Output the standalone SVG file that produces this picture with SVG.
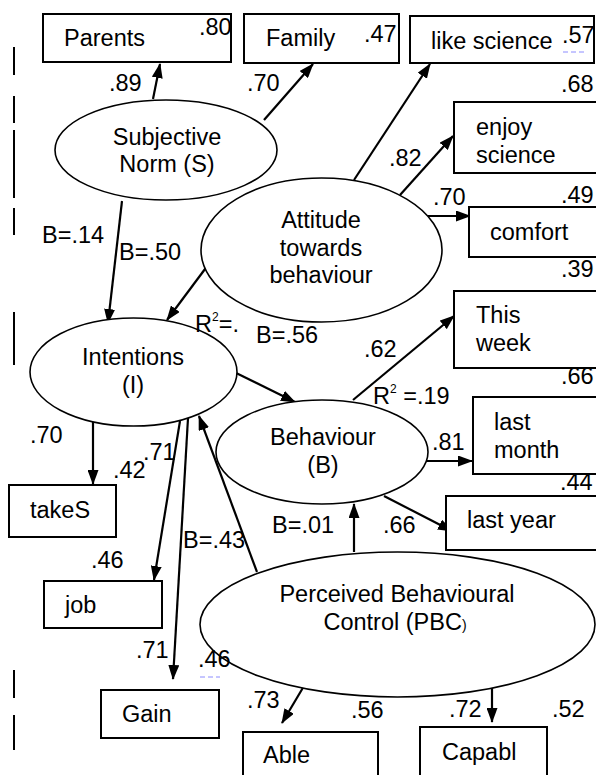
<svg xmlns="http://www.w3.org/2000/svg" width="596" height="775" viewBox="0 0 596 775">
<defs>
<marker id="ah" markerUnits="userSpaceOnUse" markerWidth="15" markerHeight="11" refX="14" refY="5.5" orient="auto">
<path d="M0,0 L15,5.5 L0,11 z" fill="#000"/>
</marker>
<style>
text{font-family:"Liberation Sans",Arial,sans-serif;font-size:23.5px;fill:#000}
.box{fill:#fff;stroke:#000;stroke-width:2}
.ell{fill:#fff;stroke:#000;stroke-width:1.6}
.c{text-anchor:middle}
.arr{stroke:#000;stroke-width:2.2;fill:none;marker-end:url(#ah)}
.bar{stroke:#000;stroke-width:2}
.sup{font-size:12px}
.sq{stroke:#8c8cff;stroke-width:1;stroke-dasharray:5,3}
</style>
</defs>
<rect width="596" height="775" fill="#fff"/>
<g id="margin-bars">
<line class="bar" x1="14" y1="47" x2="14" y2="75"/>
<line class="bar" x1="14" y1="96" x2="14" y2="123"/>
<line class="bar" x1="14" y1="130" x2="14" y2="198"/>
<line class="bar" x1="14" y1="208" x2="14" y2="235"/>
<line class="bar" x1="14" y1="312" x2="14" y2="365"/>
<line class="bar" x1="14" y1="670" x2="14" y2="698"/>
<line class="bar" x1="14" y1="715" x2="14" y2="750"/>
</g>
<g id="connectors">
<line class="arr" x1="153" y1="99" x2="160" y2="64"/>
<line class="arr" x1="264" y1="120" x2="313" y2="64"/>
<line class="arr" x1="354" y1="180" x2="430" y2="64"/>
<line class="arr" x1="400" y1="195" x2="453" y2="136"/>
<line class="arr" x1="418" y1="216" x2="470" y2="216"/>
<line class="arr" x1="208" y1="265" x2="167" y2="320"/>
<line class="arr" x1="122" y1="201" x2="108" y2="323"/>
<line class="arr" x1="230" y1="370" x2="295" y2="402"/>
<line class="arr" x1="353" y1="400" x2="454" y2="316"/>
<line class="arr" x1="423" y1="461" x2="472" y2="461"/>
<line class="arr" x1="384" y1="496" x2="452" y2="531"/>
<line class="arr" x1="354" y1="552" x2="354" y2="504"/>
<line class="arr" x1="257" y1="572" x2="199" y2="416"/>
<line class="arr" x1="93" y1="421" x2="93" y2="484"/>
<line class="arr" x1="180" y1="421" x2="154" y2="580"/>
<line class="arr" x1="188" y1="418" x2="173" y2="679"/>
<line class="arr" x1="304" y1="686" x2="282" y2="723"/>
<line class="arr" x1="492" y1="687" x2="492" y2="722"/>
</g>
<g id="parents"><rect class="box" x="43" y="14" width="188" height="48"/><text x="64" y="46">Parents</text></g>
<g id="family"><rect class="box" x="244" y="14" width="155" height="49"/><text x="266" y="46">Family</text></g>
<g id="like-science"><rect class="box" x="410" y="16" width="184" height="47"/><text x="431" y="49">like science</text></g>
<g id="enjoy-science"><rect class="box" x="454" y="102" width="150" height="71"/><text x="476" y="135">enjoy</text><text x="476" y="163">science</text></g>
<g id="comfort"><rect class="box" x="469" y="207" width="135" height="50"/><text x="490" y="240">comfort</text></g>
<g id="this-week"><rect class="box" x="454" y="291" width="150" height="77"/><text x="476" y="323">This</text><text x="476" y="351">week</text></g>
<g id="last-month"><rect class="box" x="473" y="397" width="131" height="77"/><text x="494" y="430">last</text><text x="494" y="458">month</text></g>
<g id="last-year"><rect class="box" x="446" y="496" width="158" height="54"/><text x="467" y="528">last year</text></g>
<g id="takeS"><rect class="box" x="9" y="485" width="107" height="52"/><text x="30" y="518">takeS</text></g>
<g id="job"><rect class="box" x="44" y="581" width="118" height="47"/><text x="65" y="613">job</text></g>
<g id="gain"><rect class="box" x="101" y="690" width="118" height="48"/><text x="122" y="722">Gain</text></g>
<g id="able"><rect class="box" x="243" y="732" width="135" height="50"/><text x="263" y="763">Able</text></g>
<g id="capabl"><rect class="box" x="420" y="727" width="127" height="55"/><text x="442" y="760">Capabl</text></g>
<g id="subjective-norm"><ellipse class="ell" cx="166" cy="150" rx="111" ry="50"/><text class="c" x="167" y="145">Subjective</text><text class="c" x="167" y="172">Norm (S)</text></g>
<g id="attitude"><ellipse class="ell" cx="321.5" cy="250" rx="120.5" ry="72"/><text class="c" x="321" y="228">Attitude</text><text class="c" x="321" y="256">towards</text><text class="c" x="321" y="283">behaviour</text></g>
<g id="intentions"><ellipse class="ell" cx="133.5" cy="372" rx="103.5" ry="54"/><text class="c" x="133" y="365">Intentions</text><text class="c" x="133" y="393">(I)</text></g>
<g id="behaviour"><ellipse class="ell" cx="322" cy="452" rx="106" ry="52"/><text class="c" x="323" y="445">Behaviour</text><text class="c" x="323" y="473">(B)</text></g>
<g id="pbc"><ellipse class="ell" cx="397.5" cy="624.5" rx="197.5" ry="72.5"/><text class="c" x="397" y="602">Perceived Behavioural</text><text class="c" x="395" y="630">Control (PBC<tspan font-size="14">)</tspan></text></g>
<g id="labels">
<text x="199" y="35">.80</text>
<text x="364" y="42">.47</text>
<text x="562" y="43">.57</text>
<line class="sq" x1="563" y1="52" x2="587" y2="52"/>
<text x="561" y="92">.68</text>
<text x="561" y="203">.49</text>
<text x="561" y="277">.39</text>
<text x="561" y="384">.66</text>
<text x="560" y="490">.44</text>
<text x="109" y="91">.89</text>
<text x="247" y="91">.70</text>
<text x="389" y="166">.82</text>
<text x="433" y="205">.70</text>
<text x="42" y="243">B=.14</text>
<text x="119" y="260">B=.50</text>
<text x="195" y="332">R<tspan class="sup" dy="-11">2</tspan><tspan dy="11">=.</tspan></text>
<text x="256" y="343">B=.56</text>
<text x="364" y="357">.62</text>
<text x="373" y="404">R<tspan class="sup" dy="-11">2</tspan><tspan dy="11"> =.19</tspan></text>
<text x="432" y="450">.81</text>
<text x="383" y="533">.66</text>
<text x="272" y="533">B=.01</text>
<text x="30" y="443">.70</text>
<text x="113" y="478">.42</text>
<text x="143" y="460">.71</text>
<text x="91" y="568">.46</text>
<text x="183" y="548">B=.43</text>
<text x="136" y="658">.71</text>
<text x="198" y="667">.46</text>
<line class="sq" x1="200" y1="677" x2="220" y2="677"/>
<text x="247" y="708">.73</text>
<text x="351" y="718">.56</text>
<text x="449" y="717">.72</text>
<text x="552" y="717">.52</text>
</g>
</svg>
